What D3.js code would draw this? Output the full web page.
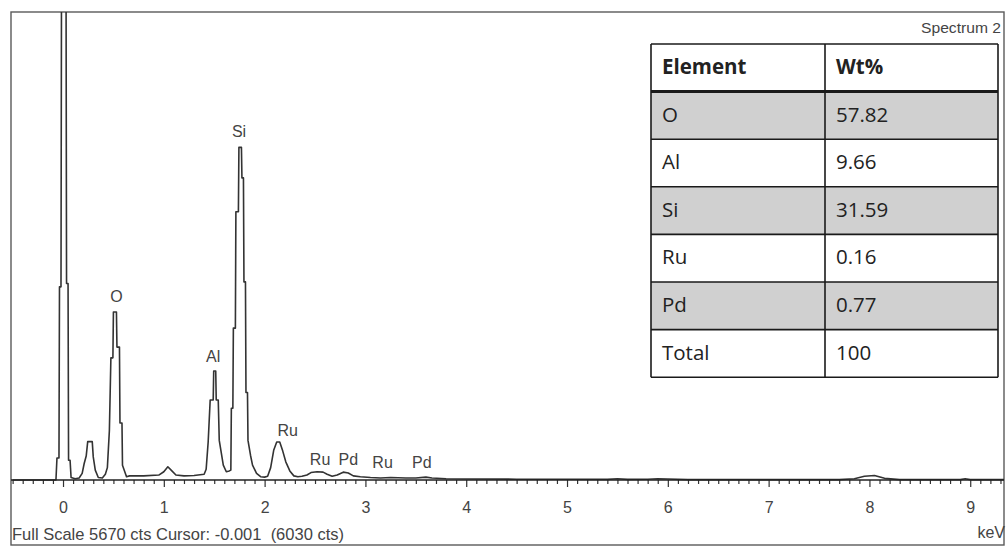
<!DOCTYPE html>
<html>
<head>
<meta charset="utf-8">
<script src="https://cdn.jsdelivr.net/npm/d3@7/dist/d3.min.js"></script>
<style>
  html, body { margin: 0; padding: 0; background: #fff; }
  svg { display: block; }
</style>
</head>
<body>
<svg id="chart" width="1007" height="546"></svg>
<script>
// ---------------- data ----------------
const energyKeV = [
  -0.50, -0.07, -0.06, -0.04, -0.035, -0.02, -0.015, 0.03, 0.035, 0.05, 0.055, 0.07, 0.08,
  0.12, 0.16, 0.19, 0.21, 0.23, 0.245, 0.29, 0.30, 0.32, 0.35, 0.39,
  0.42, 0.44, 0.46, 0.475, 0.495, 0.50, 0.53, 0.535, 0.56, 0.565, 0.585, 0.59, 0.61, 0.63,
  0.66, 0.80, 0.95, 1.00, 1.04, 1.08, 1.12, 1.20, 1.30, 1.40,
  1.42, 1.44, 1.46, 1.49, 1.495, 1.515, 1.52, 1.54, 1.55, 1.59, 1.62, 1.65,
  1.665, 1.67, 1.685, 1.69, 1.71, 1.715, 1.74, 1.745, 1.77, 1.775, 1.79, 1.795, 1.81, 1.815,
  1.83, 1.835, 1.86, 1.88, 1.92, 1.96, 2.00, 2.03,
  2.06, 2.09, 2.12, 2.15, 2.18, 2.21, 2.25, 2.29, 2.33, 2.37, 2.42, 2.46, 2.52, 2.58, 2.62,
  2.67, 2.72, 2.78, 2.83, 2.88, 2.95, 3.05, 3.15, 3.25, 3.40, 3.50, 3.60, 3.66, 3.80,
  4.00, 4.50, 5.00, 5.40, 5.50, 5.60, 5.80, 5.90, 6.00, 6.20, 7.00, 7.70, 7.85, 7.95,
  8.05, 8.15, 8.30, 8.90, 8.95, 9.00, 9.35
];
const counts = [
  0, 0, 266, 266, 2340, 2340, 6030, 6030, 2380, 2380, 240, 240, 30,
  15, 25, 80, 200, 290, 465, 465, 280, 120, 30, 25,
  70, 150, 600, 1480, 1480, 2035, 2035, 1610, 1610, 690, 690, 180, 110, 40,
  50, 50, 60, 100, 160, 110, 60, 50, 55, 70,
  130, 460, 970, 970, 1320, 1320, 970, 970, 480, 180, 100, 110,
  120, 870, 870, 1840, 1840, 3250, 3250, 4030, 4030, 3660, 3660, 2400, 2400, 1060,
  1060, 480, 300, 180, 80, 40, 35, 45,
  150, 360, 460, 460, 350, 220, 110, 50, 40, 45, 60, 90, 100, 95, 70,
  45, 60, 95, 85, 50, 40, 30, 25, 30, 25, 25, 35, 25, 15,
  12, 10, 10, 8, 15, 8, 10, 15, 12, 5, 5, 5, 15, 45,
  55, 20, 5, 5, 15, 5, 5
];
const fullScaleCts = 5670;

const peakNames = ["Si", "O", "Al", "Ru", "Ru", "Pd", "Ru", "Pd"];
const peakKeV = [1.746, 0.53, 1.49, 2.23, 2.55, 2.83, 3.17, 3.56];
const peakLabelCts = [4155, 2156, 1430, 533, 182, 182, 145, 145];

const majorTicks = [0, 1, 2, 3, 4, 5, 6, 7, 8, 9];
const minorTicks = d3.range(-5, 94).map(i => i / 10).filter(v => Math.abs(v - Math.round(v)) > 1e-6);

const tableHeader = ["Element", "Wt%"];
const tableElements = ["O", "Al", "Si", "Ru", "Pd", "Total"];
const tableWt = ["57.82", "9.66", "31.59", "0.16", "0.77", "100"];

const footerText = "Full Scale 5670 cts Cursor: -0.001  (6030 cts)";
const spectrumTitle = "Spectrum 2";
const unitLabel = "keV";

// ---------------- layout ----------------
const svg = d3.select("#chart");
const frame = { left: 11, top: 12, right: 1004, bottom: 545 };
const axisY = 480;
const labelFont = "'Liberation Sans', Arial, sans-serif";

const x = d3.scaleLinear().domain([-0.516, 9.335]).range([frame.left, frame.right]);
const y = d3.scaleLinear().domain([0, fullScaleCts]).range([axisY, frame.top]);

svg.append("defs").append("clipPath").attr("id", "plotclip")
  .append("rect").attr("x", frame.left).attr("y", frame.top)
  .attr("width", frame.right - frame.left).attr("height", axisY - frame.top + 2);

// frame
svg.append("rect")
  .attr("x", frame.left).attr("y", frame.top)
  .attr("width", frame.right - frame.left).attr("height", frame.bottom - frame.top)
  .attr("fill", "#fff").attr("stroke", "#5a5a5a").attr("stroke-width", 1.4);

// spectrum line
const pts = energyKeV.map((e, i) => [e, counts[i]]);
svg.append("path")
  .datum(pts)
  .attr("clip-path", "url(#plotclip)")
  .attr("fill", "none")
  .attr("stroke", "#333")
  .attr("stroke-width", 1.6)
  .attr("stroke-linejoin", "round")
  .attr("d", d3.line().x(d => x(d[0])).y(d => y(d[1])));

// axis
const gMinor = svg.append("g").attr("transform", `translate(0,${axisY})`)
  .call(d3.axisBottom(x).tickValues(minorTicks).tickSize(4).tickFormat(""));
const gMajor = svg.append("g").attr("transform", `translate(0,${axisY})`)
  .call(d3.axisBottom(x).tickValues(majorTicks).tickSize(7).tickPadding(15).tickFormat(d3.format("d")));
[gMinor, gMajor].forEach(g => {
  g.select(".domain").remove();
  g.selectAll(".tick line").attr("stroke", "#333").attr("stroke-width", 1.2);
});
gMajor.selectAll(".tick text")
  .attr("font-family", labelFont)
  .attr("font-size", 16).attr("fill", "#444");
svg.append("line")
  .attr("x1", x(-0.516)).attr("x2", x(9.335))
  .attr("y1", axisY).attr("y2", axisY)
  .attr("stroke", "#222").attr("stroke-width", 1.5);

// peak labels
svg.append("g").selectAll("text")
  .data(peakNames)
  .join("text")
  .attr("x", (d, i) => x(peakKeV[i]))
  .attr("y", (d, i) => y(peakLabelCts[i]))
  .attr("text-anchor", "middle")
  .attr("font-family", labelFont)
  .attr("font-size", 16)
  .attr("fill", "#444")
  .text(d => d);

// footer and titles
svg.append("text")
  .attr("x", 12).attr("y", 540)
  .attr("font-family", labelFont)
  .attr("font-size", 17).attr("fill", "#444")
  .style("white-space", "pre")
  .attr("xml:space", "preserve")
  .attr("textLength", 332).attr("lengthAdjust", "spacingAndGlyphs")
  .text(footerText);
svg.append("text")
  .attr("x", 1005).attr("y", 538).attr("text-anchor", "end")
  .attr("font-family", labelFont)
  .attr("font-size", 16).attr("fill", "#444")
  .text(unitLabel);
svg.append("text")
  .attr("x", 921).attr("y", 33)
  .attr("font-family", labelFont)
  .attr("font-size", 15).attr("fill", "#444")
  .attr("textLength", 80).attr("lengthAdjust", "spacingAndGlyphs")
  .text(spectrumTitle);

// table
const tbl = { left: 651, right: 998, mid: 825, top: 44, rowH: 47.6 };
const gT = svg.append("g");
const nRows = tableElements.length + 1;
const rowsData = [tableHeader].concat(tableElements.map((e, i) => [e, tableWt[i]]));
gT.selectAll("rect.row")
  .data(rowsData)
  .join("rect")
  .attr("class", "row")
  .attr("x", tbl.left).attr("width", tbl.right - tbl.left)
  .attr("y", (d, i) => tbl.top + i * tbl.rowH).attr("height", tbl.rowH)
  .attr("fill", (d, i) => (i === 1 || i === 3 || i === 5) ? "#d0d0d0" : "#fff");
gT.selectAll("line.h")
  .data(d3.range(nRows + 1))
  .join("line")
  .attr("x1", tbl.left).attr("x2", tbl.right)
  .attr("y1", i => tbl.top + i * tbl.rowH).attr("y2", i => tbl.top + i * tbl.rowH)
  .attr("stroke", "#1a1a1a").attr("stroke-width", i => i === 1 ? 3 : 1.6);
gT.selectAll("line.v")
  .data([tbl.left, tbl.mid, tbl.right])
  .join("line")
  .attr("x1", d => d).attr("x2", d => d)
  .attr("y1", tbl.top).attr("y2", tbl.top + nRows * tbl.rowH)
  .attr("stroke", "#1a1a1a").attr("stroke-width", 1.6);
rowsData.forEach((row, i) => {
  row.forEach((txt, j) => {
    gT.append("text")
      .attr("x", j === 0 ? tbl.left + 11 : tbl.mid + 11)
      .attr("y", tbl.top + i * tbl.rowH + 30)
      .attr("font-family", "'Open Sans', 'Noto Sans', sans-serif")
      .attr("font-size", 20.5)
      .attr("font-weight", i === 0 ? 700 : 400)
      .attr("fill", "#222")
      .text(txt);
  });
});
</script>
</body>
</html>
